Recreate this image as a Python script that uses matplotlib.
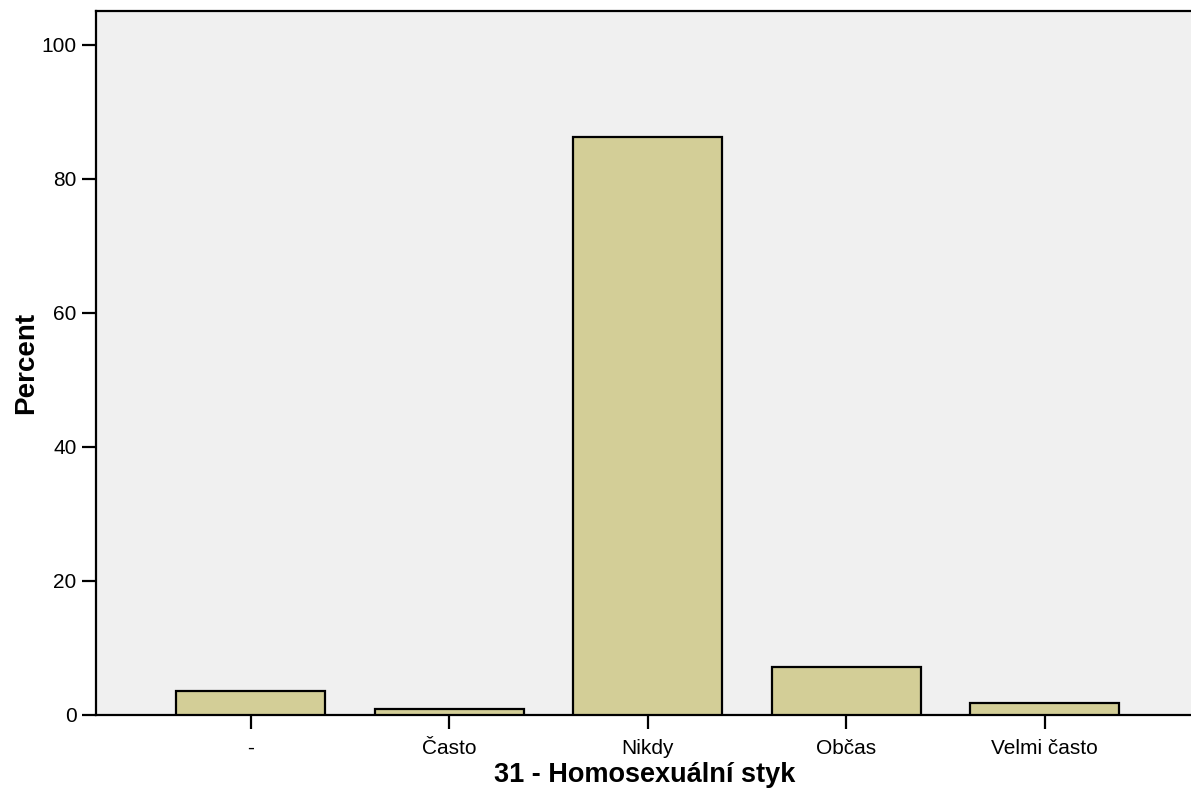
import matplotlib
matplotlib.use("Agg")
import matplotlib.pyplot as plt

# answer categories and percentages
categories = ["-", "Často", "Nikdy", "Občas", "Velmi často"]
percent = [3.6, 0.9, 86.3, 7.2, 1.8]
yticks = [0, 20, 40, 60, 80, 100]

plt.rcParams['font.family'] = ['Liberation Sans', 'DejaVu Sans']

fig = plt.figure(figsize=(11.91, 8.02), dpi=100)
ax = fig.add_axes([96 / 1191, 1 - 715 / 802, 1 - 96 / 1191 + 0.002, (715 - 11) / 802])
ax.set_facecolor("#f0f0f0")

x = list(range(len(categories)))
ax.bar(x, percent, width=0.75, color="#d3ce97", edgecolor="black", linewidth=1.6, zorder=3)

ax.set_xlim(-0.78, 4.75)
ax.set_ylim(0, 105.07)
ax.set_xticks(x)
ax.set_xticklabels(categories, fontsize=15)
ax.set_yticks(yticks)
ax.set_yticklabels([str(t) for t in yticks], fontsize=15)
ax.tick_params(axis="both", length=10, width=1.6, color="black")
ax.tick_params(axis="x", pad=7)
ax.tick_params(axis="y", pad=4)

for side in ["left", "top", "bottom"]:
    ax.spines[side].set_linewidth(1.6)
ax.spines["right"].set_visible(False)

ax.set_xlabel("31 - Homosexuální styk", fontsize=19.5, fontweight="bold", labelpad=3)
ax.set_ylabel("Percent", fontsize=20, fontweight="bold", labelpad=2)

fig.savefig("out.png", dpi=100)
